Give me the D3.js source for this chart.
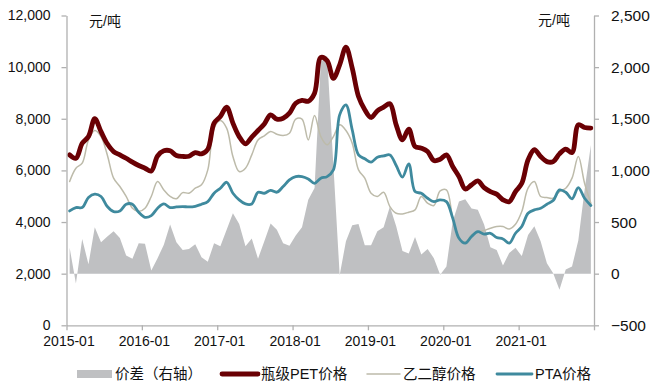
<!DOCTYPE html>
<html>
<head>
<meta charset="utf-8">
<script src="https://cdnjs.cloudflare.com/ajax/libs/d3/7.8.5/d3.min.js"></script>
<style>
  html, body { margin: 0; padding: 0; background: #fff; }
  text { font-family: "Liberation Sans", "Noto Sans CJK SC", sans-serif; fill: #111; }
</style>
</head>
<body>
<div id="chart"></div>
<script>
// monthly, 2015-01 to 2021-12
var yearLabels = ['2015-01', '2016-01', '2017-01', '2018-01', '2019-01', '2020-01', '2021-01'];
var leftTicks = [0, 2000, 4000, 6000, 8000, 10000, 12000];
var rightTicks = [-500, 0, 500, 1000, 1500, 2000, 2500];

var spread = [250, -95, 335, 90, 450, 305, 360, 410, 345, 175, 145, 295,
  290, 30, 150, 280, 475, 305, 230, 240, 285, 160, 115, 295,
  265, 425, 585, 480, 265, 340, 145, 315, 485, 425, 295, 270,
  370, 450, 715, 830, 2050, 2110, 1050, -15, 315, 470, 480, 275,
  275, 410, 450, 650, 460, 220, 195, 355, 185, 240, 150, -10,
  70, 505, 700, 720, 630, 620, 475, 255, 230, 80, 200, 250,
  170, 375, 460, 315, 100, 5, -155, 40, 70, 320, 810, 1245];

var pet = [6600, 6470, 7050, 7310, 8000, 7500, 7030, 6730, 6600, 6470, 6320, 6190,
  6085, 5980, 6560, 6760, 6760, 6575, 6540, 6550, 6690, 6640, 6820, 7830,
  8090, 8450, 7830, 7310, 7030, 7290, 7545, 7800, 8150, 7985, 8020, 8215,
  8600, 8710, 8680, 8990, 10380, 10250, 9570, 10090, 10775, 9960, 8860, 8350,
  8050, 8310, 8450, 8580, 7765, 7180, 7600, 6925, 6860, 6730, 6380, 6430,
  6600, 6150, 5760, 5280, 5440, 5590, 5335, 5180, 5080, 4860, 4790, 5180,
  5500, 6410, 6800, 6540, 6340, 6340, 6640, 6820, 6690, 7765, 7660, 7640];

var eg = [5570, 6085, 6280, 7180, 7545, 7310, 6600, 5700, 5375, 4990, 4535, 4405,
  4535, 4990, 5570, 5245, 4990, 4900, 5140, 5115, 5310, 5440, 6020, 7635,
  7930, 7635, 6540, 5955, 6085, 6600, 7180, 7340, 7505, 7400, 7350, 7440,
  7985, 7985, 7180, 8130, 7310, 6990, 7310, 7765, 7545, 7055, 6020, 5700,
  5115, 4990, 5155, 4600, 4340, 4315, 4380, 4470, 4990, 4730, 4640, 5205,
  5245, 4150, 3370, 3215, 3500, 3605, 3670, 3760, 3825, 3825, 3730, 3915,
  4405, 5310, 5570, 4990, 4950, 4920, 5180, 5310, 5700, 6540, 5500, 4730];

var pta = [4430, 4560, 4560, 4950, 5080, 4990, 4600, 4405, 4430, 4690, 4690, 4380,
  4185, 4250, 4535, 4700, 4560, 4585, 4600, 4585, 4610, 4690, 4790, 5115,
  5310, 5540, 5115, 4860, 4700, 4700, 5155, 5115, 5230, 5155, 5375, 5630,
  5760, 5760, 5670, 5500, 5700, 5760, 6020, 8150, 8540, 7570, 6600, 6450,
  6320, 6510, 6560, 6600, 6190, 5740, 6250, 5180, 5115, 4920, 4790, 4860,
  4790, 4150, 3370, 3180, 3440, 3630, 3530, 3565, 3400, 3345, 3180, 3565,
  3825, 4340, 4470, 4535, 4690, 4830, 5245, 5155, 4900, 5335, 4920, 4640];

var axisColor = '#b0b0b0';

var svg = d3.select('#chart')
    .append('svg')
        .attr('width', 655)
        .attr('height', 385)
        .style('display', 'block');

// month index, each value sits in the middle of its month slot
var x = d3.scaleLinear().domain([0, spread.length]).range([66.5, 594]);
var yLeft = d3.scaleLinear().domain([0, 12000]).range([325.3, 15.5]);
var yRight = d3.scaleLinear().domain([-500, 2500]).range([325.3, 15.5]);

var area = d3.area()
    .x(function(d, i) { return x(i + 0.5); })
    .y0(yRight(0))
    .y1(function(d) { return yRight(d); });

svg.append('path')
    .attr('d', area(spread))
    .style('fill', '#bfc0c2');

function drawLine(values, color, width) {
    var line = d3.line()
        .x(function(d, i) { return x(i + 0.5); })
        .y(function(d) { return yLeft(d); })
        .curve(d3.curveCatmullRom.alpha(0.5));
    svg.append('path')
        .attr('d', line(values))
        .style('fill', 'none')
        .style('stroke', color)
        .style('stroke-width', width)
        .style('stroke-linejoin', 'round')
        .style('stroke-linecap', 'round');
}

drawLine(eg, '#bdbbaa', 1.5);
drawLine(pta, '#3f8a9e', 2.8);
drawLine(pet, '#6a0004', 4.8);

// axes
var xAxis = d3.axisBottom(x)
    .tickValues(d3.range(0, spread.length + 1, 12))
    .tickSize(5)
    .tickSizeOuter(0)
    .tickFormat(function(d) { return yearLabels[d / 12] || ''; });

var leftAxis = d3.axisLeft(yLeft)
    .tickValues(leftTicks)
    .tickSize(5)
    .tickSizeOuter(0)
    .tickFormat(d3.format(','));

var rightAxis = d3.axisRight(yRight)
    .tickValues(rightTicks)
    .tickSize(5)
    .tickSizeOuter(0)
    .tickFormat(d3.format(','));

var gx = svg.append('g').attr('transform', 'translate(0,325.3)').call(xAxis);
var gl = svg.append('g').attr('transform', 'translate(66.5,0)').call(leftAxis);
var gr = svg.append('g').attr('transform', 'translate(594,0)').call(rightAxis);

[gx, gl, gr].forEach(function(g) {
    g.selectAll('path, line').style('stroke', axisColor).style('stroke-width', 1.3);
    g.selectAll('text').style('font-size', '14px').style('font-family', '"Liberation Sans", sans-serif').style('fill', '#111');
});
gx.selectAll('text').attr('dy', 0).attr('y', 21).attr('dx', 2);
gl.selectAll('text').attr('x', -16);
gr.selectAll('text').attr('x', 17).style('font-size', '15.5px');

// unit labels
svg.append('text').attr('x', 89).attr('y', 26).style('font-size', '14px').text('元/吨');
svg.append('text').attr('x', 538).attr('y', 25).style('font-size', '14px').text('元/吨');

// legend
var legendNames = ['价差（右轴）', '瓶级PET价格', '乙二醇价格', 'PTA价格'];
var legendColors = ['#bfc0c2', '#6a0004', '#bdbbaa', '#3f8a9e'];
var legendWidths = [0, 4.8, 1.5, 2.8];
var legendX = [77, 222, 367, 497];
var legendLen = [35, 36, 33, 35];
var legendY = 374;

legendNames.forEach(function(name, i) {
    if (i === 0) {
        svg.append('rect')
            .attr('x', legendX[i]).attr('y', legendY - 4)
            .attr('width', legendLen[i]).attr('height', 8)
            .style('fill', legendColors[i]);
    } else {
        svg.append('line')
            .attr('x1', legendX[i]).attr('x2', legendX[i] + legendLen[i])
            .attr('y1', legendY).attr('y2', legendY)
            .style('stroke', legendColors[i])
            .style('stroke-width', legendWidths[i])
            .style('stroke-linecap', 'round');
    }
    svg.append('text')
        .attr('x', legendX[i] + legendLen[i] + 3)
        .attr('y', legendY + 5)
        .style('font-size', '14.5px')
        .text(name);
});
</script>
</body>
</html>
